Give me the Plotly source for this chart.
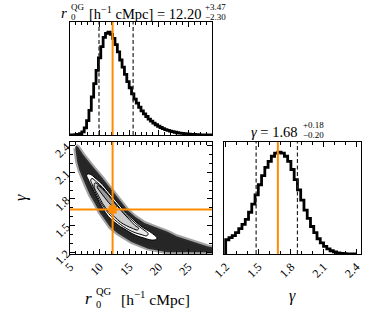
import numpy as np
import plotly.graph_objects as go

W, H = 389, 311
FONT = "Liberation Serif"

# ---------------- data ----------------
R0_RANGE = [5.0, 29.0]
G_RANGE = [1.18, 2.44]

# r0 histogram: bins of 0.4 from 5.0 to 29.0 (peak-normalised heights)
R0_BIN_LO, R0_BIN_HI = 5.0, 29.0
R0_HIST = [0.0, 0.0, 0.003, 0.006, 0.012, 0.03, 0.07, 0.14, 0.24, 0.37,
           0.50, 0.63, 0.75, 0.86, 0.95, 0.99, 1.00, 0.98, 0.94, 0.88,
           0.81, 0.73, 0.66, 0.59, 0.52, 0.46, 0.40, 0.35, 0.31, 0.27,
           0.235, 0.205, 0.18, 0.155, 0.135, 0.115, 0.10, 0.085, 0.073, 0.062,
           0.053, 0.045, 0.038, 0.032, 0.027, 0.022, 0.018, 0.015, 0.012, 0.010,
           0.008, 0.006, 0.005, 0.004, 0.003, 0.002, 0.002, 0.001, 0.001, 0.0]

# gamma histogram: bins of 0.03 from 1.2 to 2.4
G_BIN_LO, G_BIN_HI = 1.2, 2.4
G_HIST = [0.14, 0.16, 0.18, 0.21, 0.25, 0.29, 0.34, 0.41, 0.49, 0.58,
          0.68, 0.77, 0.85, 0.91, 0.96, 0.99, 1.00, 0.99, 0.96, 0.91,
          0.83, 0.73, 0.63, 0.53, 0.43, 0.35, 0.27, 0.21, 0.15, 0.11,
          0.075, 0.05, 0.032, 0.02, 0.012, 0.007, 0.004, 0.002, 0.001, 0.0]

R0_MED, R0_LO, R0_HI = 12.20, 9.90, 15.67
G_MED, G_LO, G_HI = 1.68, 1.48, 1.86

R0_TICKS = [5, 10, 15, 20, 25]
G_TICKS = [1.2, 1.5, 1.8, 2.1, 2.4]
G_TICKTEXT = ["1.2", "1.5", "1.8", "2.1", "2.4"]

# 2D sample cloud outline
CLOUD_R = [6.0, 6.4, 7.2, 8.0, 9.0, 10.3, 11.5, 12.6, 13.8, 14.8, 16.0, 17.6, 19.5,
           21.5, 23.0, 24.9, 26.5, 28.3, 29.5, 29.5, 21.5, 18.2, 15.4, 13.1, 11.8,
           10.9, 10.0, 9.2, 8.4, 7.8, 7.1, 6.6, 6.2, 6.0, 5.9]
CLOUD_G = [2.40, 2.38, 2.30, 2.23, 2.15, 2.05, 1.95, 1.86, 1.76, 1.67, 1.60, 1.53, 1.48,
           1.43, 1.38, 1.335, 1.30, 1.265, 1.25, 1.20, 1.20, 1.24, 1.315, 1.41, 1.48,
           1.56, 1.65, 1.75, 1.84, 1.93, 2.03, 2.12, 2.22, 2.31, 2.37]

# density contours (outer -> inner)
C20_R = [8.0, 8.6, 9.5, 10.5, 11.5, 12.5, 13.5, 14.5, 15.5, 16.5, 17.5, 18.5, 19.3, 19.7,
         19.4, 18.5, 17.5, 16.5, 15.5, 14.5, 13.5, 12.5, 11.5, 10.5, 9.5, 8.6, 8.0, 7.8]
C20_G = [2.08, 2.07, 2.02, 1.96, 1.88, 1.80, 1.72, 1.64, 1.58, 1.52, 1.47, 1.43, 1.39, 1.36,
         1.34, 1.34, 1.36, 1.38, 1.41, 1.45, 1.49, 1.54, 1.60, 1.70, 1.82, 1.95, 2.03, 2.06]
C15_R = [8.7, 9.5, 10.5, 11.5, 12.5, 13.5, 14.5, 15.5, 16.5, 17.5, 18.2,
         18.0, 17.0, 16.0, 15.0, 14.0, 13.0, 12.0, 11.0, 10.0, 9.2, 8.7, 8.5]
C15_G = [2.03, 1.99, 1.93, 1.85, 1.77, 1.69, 1.62, 1.56, 1.50, 1.45, 1.41,
         1.385, 1.40, 1.42, 1.45, 1.49, 1.54, 1.60, 1.68, 1.78, 1.89, 1.97, 2.01]
C10_R = [9.2, 10.0, 11.0, 12.0, 13.0, 14.0, 15.0, 16.0, 16.6,
         16.4, 15.5, 14.5, 13.5, 12.5, 11.5, 10.5, 9.7, 9.1]
C10_G = [1.98, 1.95, 1.88, 1.80, 1.72, 1.64, 1.57, 1.50, 1.47,
         1.45, 1.47, 1.50, 1.54, 1.60, 1.66, 1.75, 1.85, 1.93]
C05_R = [9.7, 10.5, 11.5, 12.3, 12.9, 12.7, 11.8, 10.8, 10.0, 9.6]
C05_G = [1.95, 1.91, 1.84, 1.77, 1.72, 1.70, 1.74, 1.82, 1.89, 1.93]

# ---------------- figure ----------------
ORANGE = "#ff8c00"
fig = go.Figure()


def step_xy(lo, hi, heights):
    edges = np.linspace(lo, hi, len(heights) + 1)
    xs = [edges[0]] + list(edges[:-1]) + [edges[-1]]
    ys = [0.0] + list(heights) + [0.0]
    return xs, ys


xs, ys = step_xy(R0_BIN_LO, R0_BIN_HI, R0_HIST)
fig.add_trace(go.Scatter(x=xs, y=ys, mode="lines", line=dict(color="black", width=2.8, shape="hv"),
                         xaxis="x", yaxis="y", showlegend=False, hoverinfo="skip"))
xs, ys = step_xy(G_BIN_LO, G_BIN_HI, G_HIST)
fig.add_trace(go.Scatter(x=xs, y=ys, mode="lines", line=dict(color="black", width=2.8, shape="hv"),
                         xaxis="x3", yaxis="y3", showlegend=False, hoverinfo="skip"))

# 2D panel
fig.add_trace(go.Scatter(x=CLOUD_R, y=CLOUD_G, mode="lines", fill="toself", fillcolor="#262626",
                         line=dict(color="rgba(50,50,50,0.45)", width=4),
                         xaxis="x2", yaxis="y2", showlegend=False, hoverinfo="skip"))
for cr, cg, fc in [(C20_R, C20_G, "#ffffff"), (C15_R, C15_G, "#ebebeb"),
                   (C10_R, C10_G, "#cdcdcd"), (C05_R, C05_G, "#9a9a9a")]:
    fig.add_trace(go.Scatter(x=cr + cr[:1], y=cg + cg[:1], mode="lines", fill="toself", fillcolor=fc,
                             line=dict(color="black", width=1, shape="spline"),
                             xaxis="x2", yaxis="y2", showlegend=False, hoverinfo="skip"))
fig.add_trace(go.Scatter(x=[R0_MED], y=[G_MED], mode="markers",
                         marker=dict(symbol="square", size=8, color=ORANGE),
                         xaxis="x2", yaxis="y2", showlegend=False, hoverinfo="skip"))

# lines
shapes = []
for xv in [R0_LO, R0_HI]:
    shapes.append(dict(type="line", xref="x", yref="y domain", x0=xv, x1=xv, y0=0, y1=1,
                       line=dict(color="#222", width=1.2, dash="4px,2.5px")))
for xv in [G_LO, G_HI]:
    shapes.append(dict(type="line", xref="x3", yref="y3 domain", x0=xv, x1=xv, y0=0, y1=1,
                       line=dict(color="#222", width=1.2, dash="4px,2.5px")))
shapes.append(dict(type="line", xref="x", yref="y domain", x0=R0_MED, x1=R0_MED, y0=0, y1=1,
                   line=dict(color=ORANGE, width=2)))
shapes.append(dict(type="line", xref="x3", yref="y3 domain", x0=G_MED, x1=G_MED, y0=0, y1=1,
                   line=dict(color=ORANGE, width=2)))
shapes.append(dict(type="line", xref="x2", yref="y2 domain", x0=R0_MED, x1=R0_MED, y0=0, y1=1,
                   line=dict(color=ORANGE, width=2)))
shapes.append(dict(type="line", xref="x2 domain", yref="y2", x0=0, x1=1, y0=G_MED, y1=G_MED,
                   line=dict(color=ORANGE, width=2)))

# axes
base = dict(showline=True, linecolor="black", linewidth=1.3, mirror="ticks", showgrid=False,
            zeroline=False, ticks="inside", ticklen=5, tickwidth=1, tickcolor="black",
            automargin=False, tickfont=dict(family=FONT, size=12, color="black"))
minor_r = dict(dtick=1, ticklen=2.5, ticks="inside", tickcolor="black", tickwidth=1)
minor_g = dict(dtick=0.1, ticklen=2.5, ticks="inside", tickcolor="black", tickwidth=1)

XL = [70 / W, 212 / W]
XR = [223.5 / W, 360.5 / W]
YT = [1 - 135 / H, 1 - 22 / H]
YB = [1 - 254 / H, 1 - 142 / H]

hist_y = dict(showline=True, linecolor="black", linewidth=1.3, mirror=True, showgrid=False,
              zeroline=False, ticks="", showticklabels=False, range=[0, 1.1], automargin=False)

fig.update_layout(
    template="none",
    width=W, height=H, margin=dict(l=0, r=0, t=0, b=0, pad=0, autoexpand=False),
    paper_bgcolor="white", plot_bgcolor="white",
    xaxis=dict(base, domain=XL, range=R0_RANGE, anchor="y", tickvals=R0_TICKS,
               showticklabels=False, minor=minor_r),
    yaxis=dict(hist_y, domain=YT, anchor="x"),
    xaxis2=dict(base, domain=XL, range=R0_RANGE, anchor="y2", tickvals=R0_TICKS,
                tickangle=-45, minor=minor_r),
    yaxis2=dict(base, domain=YB, range=G_RANGE, anchor="x2", tickvals=G_TICKS,
                ticktext=G_TICKTEXT, tickangle=-45, minor=minor_g),
    xaxis3=dict(base, domain=XR, range=G_RANGE, anchor="y3", tickvals=G_TICKS,
                ticktext=G_TICKTEXT, tickangle=-45, minor=minor_g),
    yaxis3=dict(hist_y, domain=YB, anchor="x3"),
    shapes=shapes,
)


def ann(text, px, py, size, xanchor="center", angle=0):
    return dict(text=text, x=px / W, y=1 - py / H, xref="paper", yref="paper",
                xanchor=xanchor, yanchor="middle", showarrow=False, textangle=angle,
                font=dict(family=FONT, size=size, color="black"))


anns = [
    # top title
    ann("<i>r</i>", 68.5, 12.5, 15, "right"),
    ann("QG", 68.5, 6.5, 9, "left"),
    ann("0", 68.5, 16.5, 9, "left"),
    ann("[h<sup>−1</sup> cMpc] = 12.20", 203, 12.5, 14.5, "right"),
    ann("+3.47", 203, 6.5, 9, "left"),
    ann("−2.30", 203, 16.5, 9, "left"),
    # right title
    ann("<i>γ</i> = 1.68", 300, 132, 14.5, "right"),
    ann("+0.18", 300.5, 124.5, 9, "left"),
    ann("−0.20", 300.5, 134.5, 9, "left"),
    # x label of 2D
    ann("<i>r</i>", 94, 298, 17, "right"),
    ann("QG", 94, 291, 10.5, "left"),
    ann("0", 94, 304, 10.5, "left"),
    ann("[h<sup>−1</sup> cMpc]", 119, 298, 15.5, "left"),
    # gamma labels
    ann("<i>γ</i>", 292, 296, 16),
    ann("<i>γ</i>", 21, 198, 16, angle=-90),
]
fig.update_layout(annotations=anns)

fig.write_html("out.html", config={"displayModeBar": False},
               post_script="document.body.style.margin='0';document.body.style.overflow='hidden';")
